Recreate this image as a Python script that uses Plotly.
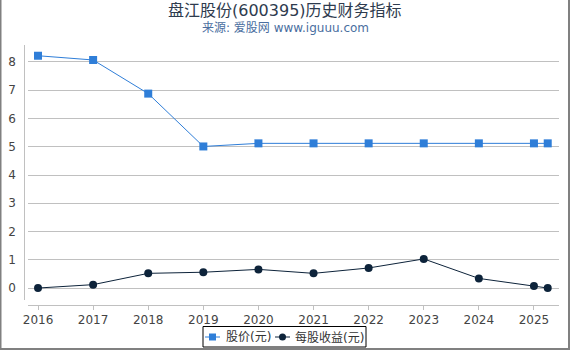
import plotly.graph_objects as go

# Data
x_dates = [2016, 2017, 2018, 2019, 2020, 2021, 2022, 2023, 2024, 2025, 2025.25]
price = [8.22, 8.07, 6.88, 5.01, 5.12, 5.12, 5.12, 5.12, 5.12, 5.12, 5.12]
eps = [0.0, 0.12, 0.52, 0.56, 0.66, 0.52, 0.71, 1.03, 0.34, 0.07, 0.0]
tick_years = [2016, 2017, 2018, 2019, 2020, 2021, 2022, 2023, 2024, 2025]
series_names = ["股价(元)", "每股收益(元)"]
series_colors = ["#2f7ed8", "#0d233a"]
title_text = "盘江股份(600395)历史财务指标"
subtitle_text = "来源: 爱股网 www.iguuu.com"

W, H = 570, 350
ml, mr, mt, mb = 28, 11, 45, 45
pw, ph = W - ml - mr, H - mt - mb

def px_x(p):
    return (p - ml) / pw

def px_y(p):
    return (H - mb - p) / ph

font_fam = "DejaVu Sans, Noto Sans CJK SC, sans-serif"

fig = go.Figure()
fig.add_trace(go.Scatter(
    x=x_dates, y=price, name=series_names[0], mode="lines+markers",
    line=dict(color=series_colors[0], width=1),
    marker=dict(symbol="square", size=8, color=series_colors[0]),
))
fig.add_trace(go.Scatter(
    x=x_dates, y=eps, name=series_names[1], mode="lines+markers",
    line=dict(color=series_colors[1], width=1),
    marker=dict(symbol="circle", size=8, color=series_colors[1]),
))

shapes = [
    # page frame
    dict(type="line", xref="paper", yref="paper",
         x0=px_x(0.5), x1=px_x(0.5), y0=px_y(0), y1=px_y(350),
         line=dict(color="#808080", width=2)),
    dict(type="line", xref="paper", yref="paper",
         x0=px_x(569), x1=px_x(569), y0=px_y(0), y1=px_y(350),
         line=dict(color="#808080", width=2)),
    dict(type="line", xref="paper", yref="paper",
         x0=px_x(0), x1=px_x(570), y0=px_y(349), y1=px_y(349),
         line=dict(color="#808080", width=2)),
    # y axis line (offset from plot area)
    dict(type="line", xref="paper", yref="paper",
         x0=px_x(24.5), x1=px_x(24.5), y0=px_y(45), y1=px_y(300),
         line=dict(color="#c0c0c0", width=1)),
    # legend box
    dict(type="rect", xref="paper", yref="paper",
         x0=px_x(203), x1=px_x(366), y0=px_y(326.5), y1=px_y(347),
         line=dict(color="#000", width=1), fillcolor="rgba(0,0,0,0)"),
]

annotations = [
    dict(text=title_text, x=px_x(285), y=px_y(10), xref="paper", yref="paper",
         showarrow=False, xanchor="center", yanchor="middle",
         font=dict(size=16, color="#2e3b4e", family=font_fam)),
    dict(text=subtitle_text, x=px_x(285), y=px_y(28), xref="paper", yref="paper",
         showarrow=False, xanchor="center", yanchor="middle",
         font=dict(size=12, color="#4a6ea0", family=font_fam)),
]

ly = 337
legend_items = [(205, 224), (275, 293)]
for i, (lx, tx) in enumerate(legend_items):
    c = series_colors[i]
    shapes.append(dict(type="line", xref="paper", yref="paper",
                       x0=px_x(lx), x1=px_x(lx + 15), y0=px_y(ly), y1=px_y(ly),
                       line=dict(color=c, width=1)))
    cx = lx + 7.5
    if i == 0:
        shapes.append(dict(type="rect", xref="paper", yref="paper",
                           x0=px_x(cx - 3.5), x1=px_x(cx + 3.5),
                           y0=px_y(ly - 3.5), y1=px_y(ly + 3.5),
                           line=dict(width=0), fillcolor=c))
    else:
        shapes.append(dict(type="circle", xref="paper", yref="paper",
                           x0=px_x(cx - 3.5), x1=px_x(cx + 3.5),
                           y0=px_y(ly - 3.5), y1=px_y(ly + 3.5),
                           line=dict(width=0), fillcolor=c))
    annotations.append(dict(text=series_names[i], x=px_x(tx), y=px_y(ly),
                            xref="paper", yref="paper", showarrow=False,
                            xanchor="left", yanchor="middle",
                            font=dict(size=12, color="#333", family=font_fam)))

fig.update_layout(
    width=W, height=H,
    margin=dict(l=ml, r=mr, t=mt, b=mb, autoexpand=False),
    paper_bgcolor="white", plot_bgcolor="white",
    font=dict(family=font_fam, size=12, color="#444"),
    showlegend=False,
    xaxis=dict(
        range=[2016 - 10 / 55, 2025 + 25 / 55],
        tickvals=tick_years, ticktext=[str(y) for y in tick_years],
        showgrid=False, zeroline=False,
        showline=True, linecolor="#c0c0c0", linewidth=1,
        ticks="outside", ticklen=4, tickcolor="#c0c0c0",
        tickfont=dict(size=12, color="#444"),
    ),
    yaxis=dict(
        range=[-0.6, 8.6],
        tickvals=list(range(0, 9)),
        showgrid=True, gridcolor="#c0c0c0", gridwidth=1,
        zeroline=False, showline=False,
        ticks="", ticklabelstandoff=11,
        tickfont=dict(size=12, color="#444"),
    ),
    annotations=annotations,
    shapes=shapes,
)

fig.write_html("out.html")
